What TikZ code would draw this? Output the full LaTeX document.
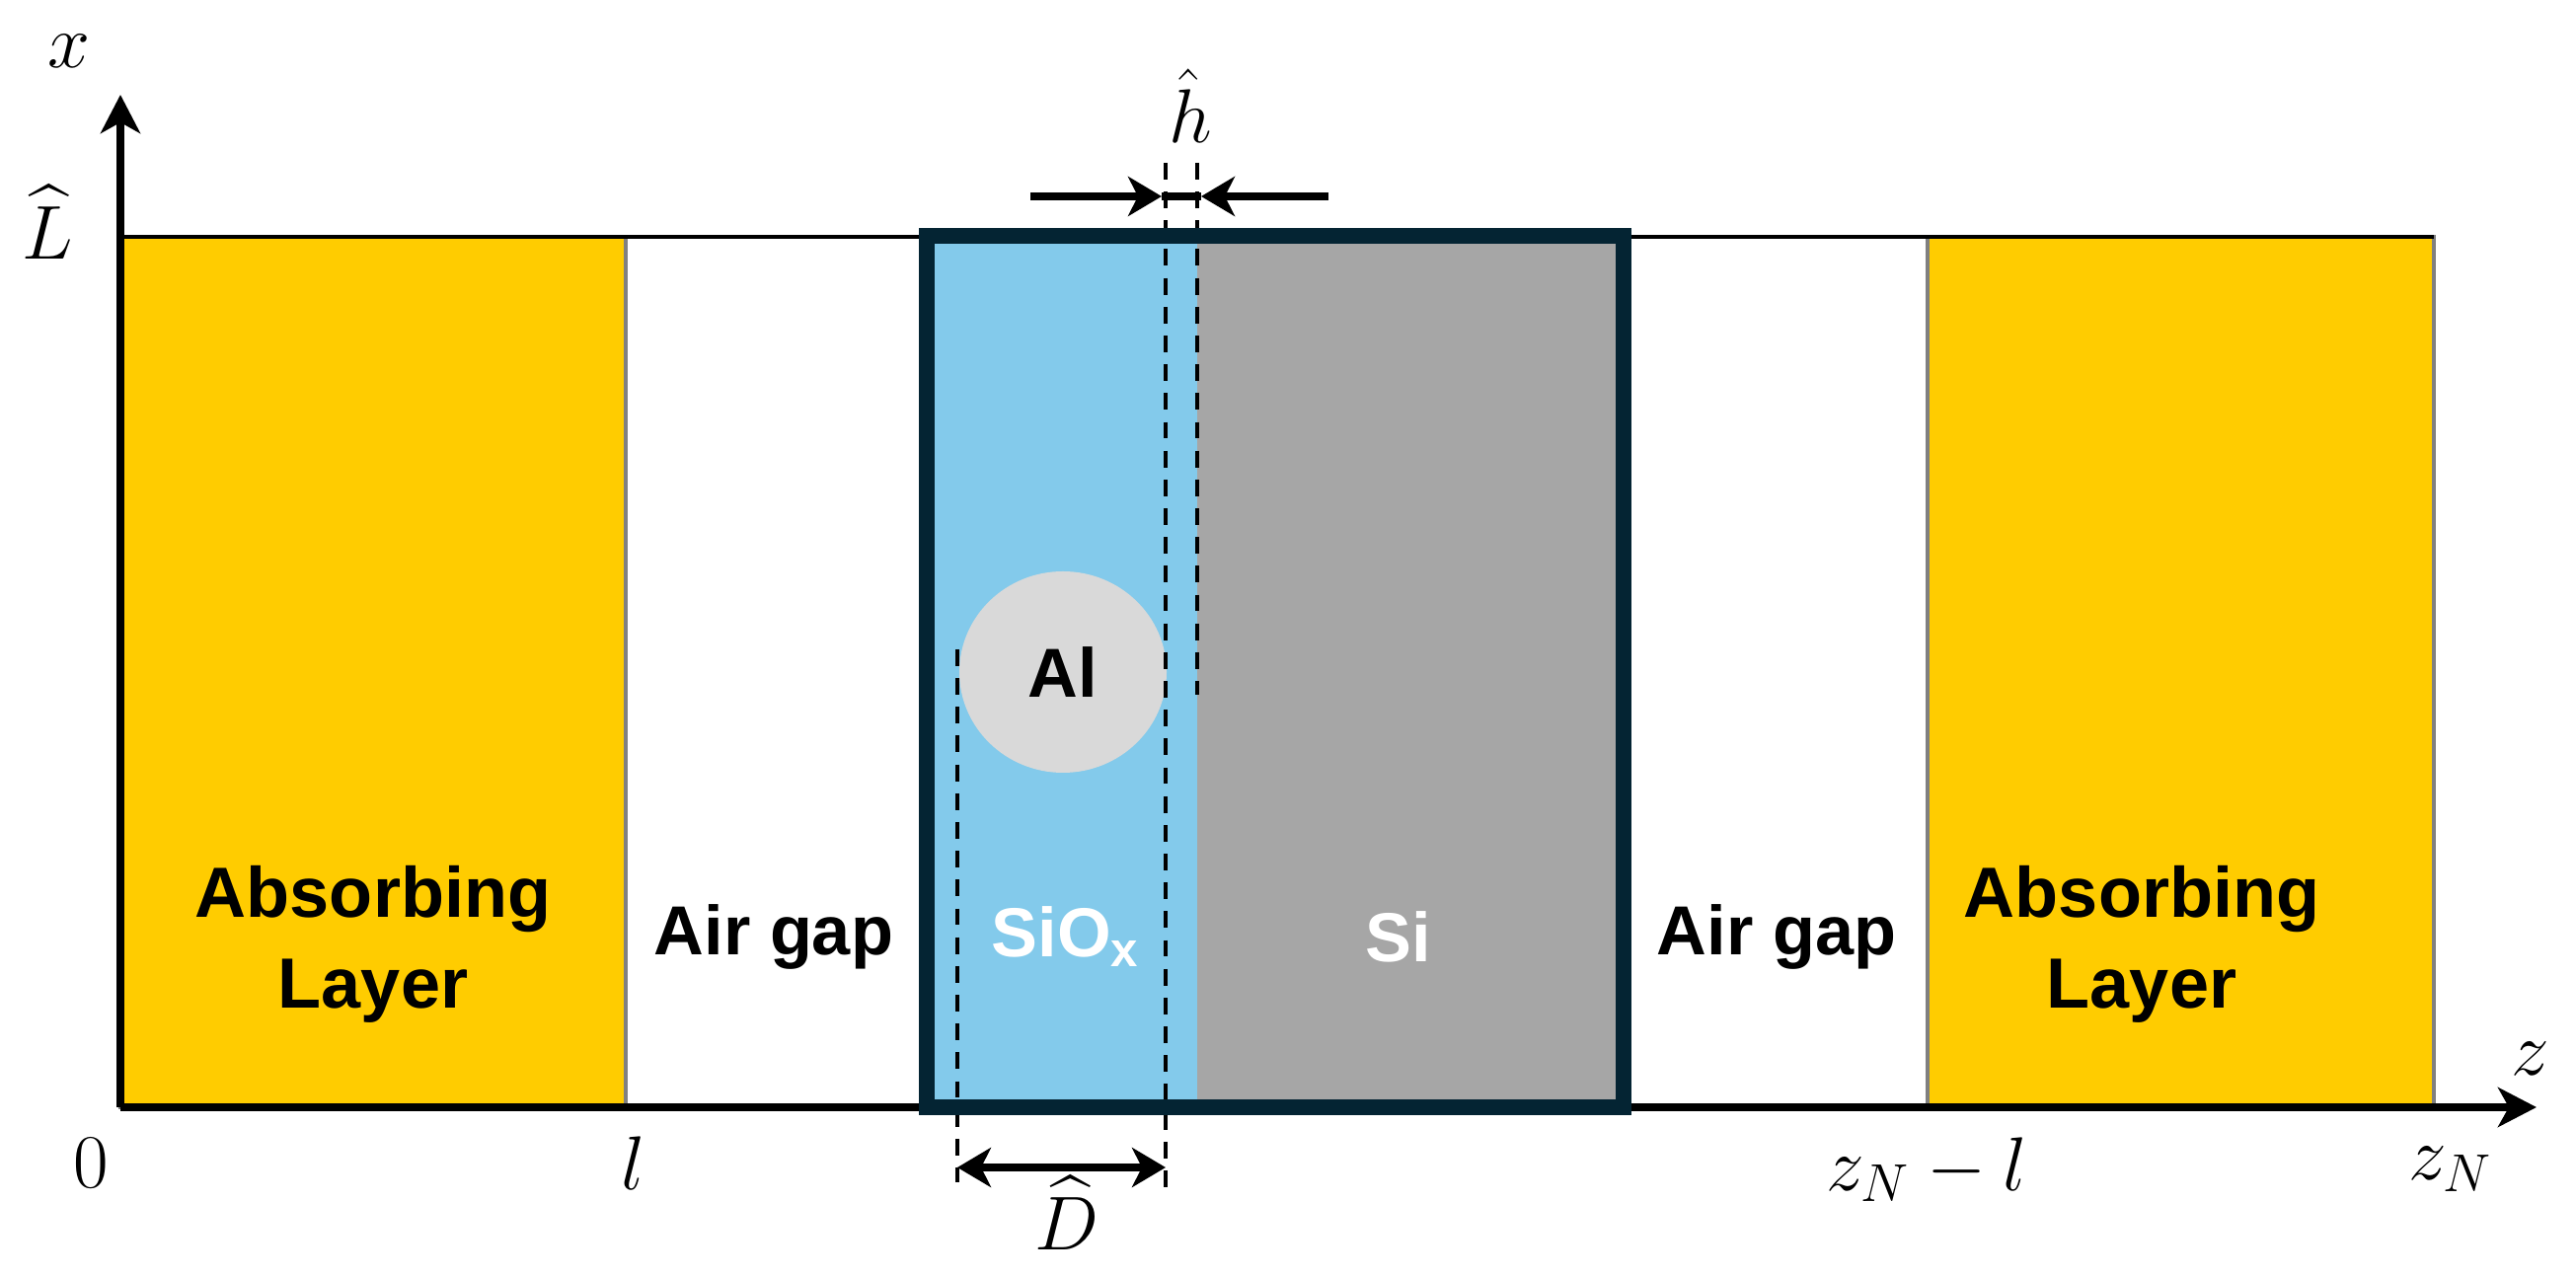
\documentclass[tikz,border=0pt]{standalone}
\usepackage{fix-cm}
\usepackage{amsmath}
\usepackage{fontspec}
\setmainfont{Liberation Sans}
\usepackage{xcolor}
\usetikzlibrary{arrows.meta, positioning, shapes.geometric}

\definecolor{absorbcol}{HTML}{FFCC00}
\definecolor{oxidecol}{HTML}{83CAEB}
\definecolor{siliconcol}{HTML}{A6A6A6}
\definecolor{alcol}{HTML}{D9D9D9}
\definecolor{framecol}{HTML}{042433}

\tikzset{
  axisline/.style={line width=2.3pt,-{Stealth[length=3.9mm,width=4mm,inset=1.1mm]}},
  dimline/.style={line width=2.3pt},
  dimtip/.style={{Stealth[length=3.4mm,width=4mm,inset=1mm]}-{Stealth[length=3.4mm,width=4mm,inset=1mm]}},
  guide/.style={line width=1.1pt,dash pattern=on 4.8pt off 3.5pt},
  layerlabel/.style={font=\fontsize{20}{26}\selectfont\bfseries,align=center},
  absorblabel/.style={font=\fontsize{20.5}{26}\selectfont\bfseries,align=center},
  mathlabel/.style={font=\fontsize{22}{26}\selectfont}
}

\begin{document}
\begin{tikzpicture}
  \useasboundingbox (-1.22,-1.72) rectangle (24.88,11.22);
  % absorbing layers
  \draw[draw=gray,line width=1pt,fill=absorbcol] (0,0) rectangle (5.12,8.82);
  \draw[draw=gray,line width=1pt,fill=absorbcol] (18.31,0) rectangle (23.44,8.82);
  % film stack
  \fill[oxidecol] (8.17,0) rectangle (10.91,8.83);
  \fill[siliconcol] (10.91,0) rectangle (15.23,8.83);
  % axes
  \coordinate (origin) at (0,0);
  \coordinate (xtip) at (0,10.26);
  \coordinate (ztip) at (24.48,0);
  \coordinate (topend) at (23.44,8.82);
  \coordinate (topstart) at (0,8.82);
  \draw[line width=1pt] (topstart) -- (topend);
  \draw[axisline] (origin) -- (xtip);
  \draw[axisline] (origin) -- (ztip);
  % particle
  \node[draw=none,fill=alcol,ellipse,minimum width=2.1cm,minimum height=2.04cm,inner sep=0pt] (al) at (9.55,4.41) {};
  \node[layerlabel] (allabel) at (al) {Al};
  % guides
  \coordinate (dlefttop) at (8.48,4.64);
  \coordinate (dleftbot) at (8.48,-0.76);
  \coordinate (drighttop) at (10.59,9.57);
  \coordinate (drightbot) at (10.59,-0.90);
  \coordinate (hrighttop) at (10.91,9.57);
  \coordinate (hrightbot) at (10.91,4.18);
  \draw[guide] (dlefttop) -- (dleftbot);
  \draw[guide] (drighttop) -- (drightbot);
  \draw[guide] (hrighttop) -- (hrightbot);
  % frame
  \draw[framecol,line width=4.3pt] (8.17,0) rectangle (15.23,8.83);
  % thickness arrows
  \coordinate (hstart) at (9.22,9.23);
  \coordinate (hleft) at (10.55,9.23);
  \coordinate (hend) at (12.24,9.23);
  \coordinate (hright) at (10.95,9.23);
  \draw[dimline,-{Stealth[length=3.4mm,width=4mm,inset=1mm]}] (hstart) -- (hleft);
  \draw[dimline,-{Stealth[length=3.4mm,width=4mm,inset=1mm]}] (hend) -- (hright);
  \draw[dimline] (hleft) -- (hright);
  \coordinate (dstart) at (8.48,-0.61);
  \coordinate (dend) at (10.59,-0.61);
  \draw[dimline,dimtip] (dstart) -- (dend);
  % layer labels
  \node[absorblabel] (absleft) at (2.56,1.65) {Absorbing\\Layer};
  \node[absorblabel] (absright) at (20.48,1.65) {Absorbing\\Layer};
  \node[layerlabel] (gapleft) at (6.62,1.73) {Air gap};
  \node[layerlabel] (gapright) at (16.78,1.73) {Air gap};
  \node[layerlabel,text=white] (oxide) at (9.58,1.73) {SiO\textsubscript{x}};
  \node[layerlabel,text=white] (silicon) at (12.95,1.73) {Si};
  % axis labels
  \node[mathlabel] (xlabel) at (-0.52,10.70) {$x$};
  \node[mathlabel] (zlabel) at (24.42,0.49) {$z$};
  \node[mathlabel] (Llabel) at (-0.74,8.97) {$\widehat{L}$};
  \node[mathlabel] (zerolabel) at (-0.30,-0.57) {$0$};
  \node[mathlabel] (llabel) at (5.20,-0.57) {$l$};
  \node[mathlabel] (zllabel) at (18.30,-0.63) {$z_N-l$};
  \node[mathlabel] (zNlabel) at (23.61,-0.63) {$z_N$};
  \node[mathlabel] (hlabel) at (10.84,10.15) {$\hat{h}$};
  \node[mathlabel] (Dlabel) at (9.59,-1.07) {$\widehat{D}$};
\end{tikzpicture}
\end{document}
